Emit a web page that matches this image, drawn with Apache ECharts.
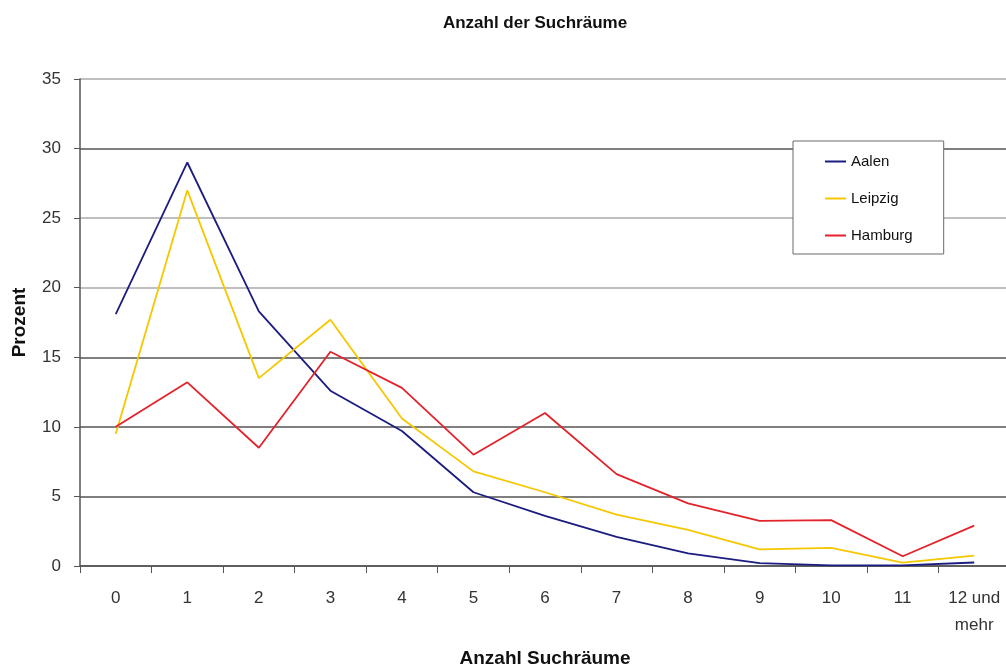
<!DOCTYPE html>
<html>
<head>
<meta charset="utf-8">
<script src="https://cdn.jsdelivr.net/npm/echarts@6/dist/echarts.min.js"></script>
<style>
  html, body { margin: 0; padding: 0; background: #fff; }
  #chart { width: 1006px; height: 666px; }
</style>
</head>
<body>
<div id="chart"></div>
<script>
// Anzahl der Suchräume – Anteil in Prozent je Stadt
const categories = ['0', '1', '2', '3', '4', '5', '6', '7', '8', '9', '10', '11', '12 und\nmehr'];
const aalen   = [18.1, 29.0, 18.3, 12.6, 9.7, 5.3, 3.6, 2.1, 0.9, 0.2, 0.05, 0.05, 0.25];
const leipzig = [9.5, 27.0, 13.5, 17.7, 10.6, 6.8, 5.3, 3.7, 2.6, 1.2, 1.3, 0.25, 0.75];
const hamburg = [10.0, 13.2, 8.5, 15.4, 12.8, 8.0, 11.0, 6.6, 4.5, 3.25, 3.3, 0.7, 2.9];
const seriesNames = ['Aalen', 'Leipzig', 'Hamburg'];
const seriesColors = ['#1c1c80', '#f5c700', '#e3232b'];

const FONT = '"Liberation Sans", Arial, sans-serif';

const chart = echarts.init(document.getElementById('chart'), null, { renderer: 'canvas' });

const makeLine = (name, data, color) => ({
  name,
  type: 'line',
  data,
  symbol: 'none',
  showSymbol: false,
  lineStyle: { color, width: 1.8 },
  itemStyle: { color },
  z: 3
});

chart.setOption({
  animation: false,
  backgroundColor: '#fff',
  textStyle: { fontFamily: FONT },
  title: {
    text: 'Anzahl der Suchräume',
    left: 530,
    top: 10,
    textAlign: 'center',
    textStyle: { fontFamily: FONT, fontSize: 17, fontWeight: 'bold', color: '#111' }
  },
  legend: {
    orient: 'vertical',
    left: 793,
    top: 141,
    icon: 'rect',
    itemWidth: 21,
    itemHeight: 2,
    itemGap: 22,
    padding: [13, 31, 11, 32],
    backgroundColor: '#fff',
    borderColor: '#6a6a6a',
    borderWidth: 1,
    textStyle: { fontFamily: FONT, fontSize: 15, color: '#111' },
    data: seriesNames
  },
  grid: { left: 80, right: -4, top: 79, bottom: 100, containLabel: false, outerBoundsMode: 'none' },
  xAxis: {
    type: 'category',
    data: categories,
    boundaryGap: true,
    name: 'Anzahl Suchräume',
    nameLocation: 'middle',
    nameGap: 83,
    nameTextStyle: { fontFamily: FONT, fontSize: 19, fontWeight: 'bold', color: '#111', verticalAlign: 'top' },
    axisLine: { lineStyle: { color: '#555', width: 1.5 } },
    axisTick: { show: true, length: 7, alignWithLabel: false, lineStyle: { color: '#555' } },
    axisLabel: { fontFamily: FONT, fontSize: 17, color: '#333', margin: 19, lineHeight: 27, interval: 0 },
    splitLine: { show: false }
  },
  yAxis: {
    type: 'value',
    min: 0,
    max: 35,
    interval: 5,
    name: 'Prozent',
    nameLocation: 'middle',
    nameGap: 51,
    nameRotate: 90,
    nameTextStyle: { fontFamily: FONT, fontSize: 19, fontWeight: 'bold', color: '#111' },
    axisLine: { show: true, lineStyle: { color: '#555', width: 1.5 } },
    axisTick: { show: true, length: 6, lineStyle: { color: '#555' } },
    axisLabel: { fontFamily: FONT, fontSize: 17, color: '#333', margin: 19 },
    splitLine: {
      show: true,
      lineStyle: { color: ['#555', '#555', '#555', '#555', '#aaa', '#aaa', '#555', '#aaa'], width: 1.5 }
    }
  },
  series: [
    makeLine(seriesNames[0], aalen, seriesColors[0]),
    makeLine(seriesNames[1], leipzig, seriesColors[1]),
    makeLine(seriesNames[2], hamburg, seriesColors[2])
  ]
});
</script>
</body>
</html>
